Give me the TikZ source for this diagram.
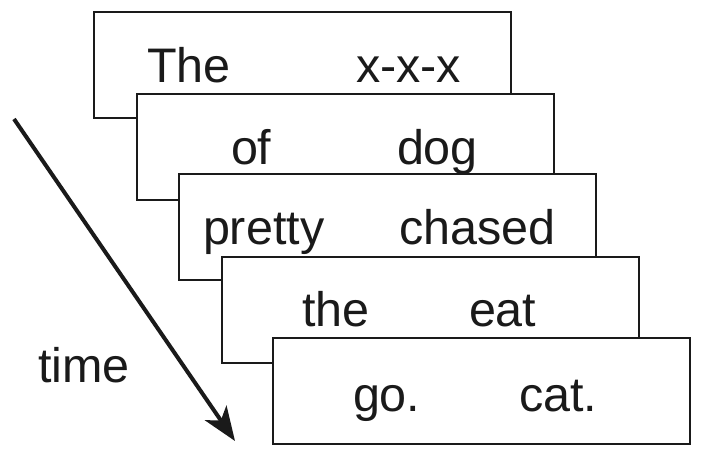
\documentclass[tikz,border=0pt]{standalone}
\usepackage{fontspec}
\setmainfont{Liberation Sans}
\usetikzlibrary{arrows.meta}
\definecolor{ink}{HTML}{1A1A1A}
\begin{document}
\begin{tikzpicture}[x=1pt,y=-1pt,
  frame/.style={draw=ink, line width=2pt, fill=white, minimum width=417pt, minimum height=106pt, anchor=north west, inner sep=0pt, outer sep=0pt},
  word/.style={anchor=base west, inner sep=0pt, outer sep=0pt, text=ink, font=\fontsize{48.5}{58}\selectfont},
  timearrow/.style={draw=ink, line width=4pt, -{Stealth[length=34pt, width=26pt, inset=9pt]}}]
\useasboundingbox (0,0) rectangle (714,462);
\node[frame] (b1) at (94,12) {};
\node[word] (w1a) at (147,83) {The};
\node[word] (w1b) at (356,83) {x-x-x};
\node[frame] (b2) at (137,94) {};
\node[word] (w2a) at (231,165) {of};
\node[word] (w2b) at (397,165) {dog};
\node[frame] (b3) at (179,174) {};
\node[word] (w3a) at (203,244) {pretty};
\node[word] (w3b) at (399,244) {chased};
\node[frame] (b4) at (222,257) {};
\node[word] (w4a) at (302,326) {the};
\node[word] (w4b) at (469,326) {eat};
\node[frame] (b5) at (273,338) {};
\node[word] (w5a) at (353,411) {go.};
\node[word] (w5b) at (519,411) {cat.};
\node[word] (t) at (38,382) {time};
\coordinate (as) at (14,119);
\coordinate (ae) at (235,441);
\draw[timearrow] (as) -- (ae);
\end{tikzpicture}
\end{document}
